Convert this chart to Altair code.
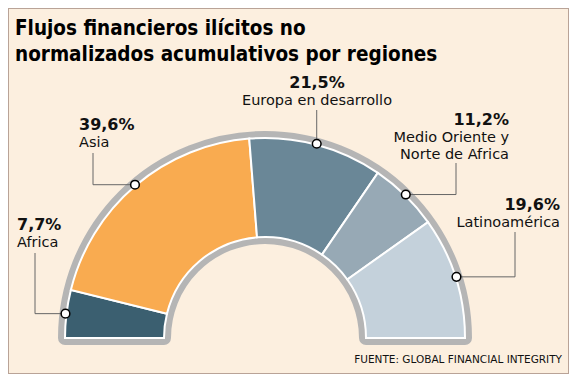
import math
import altair as alt
import pandas as pd

# ---------------- data ----------------
regions = ["Africa", "Asia", "Europa en desarrollo",
           "Medio Oriente y Norte de Africa", "Latinoamérica"]
shares = [7.7, 39.6, 21.5, 11.2, 19.6]
pct_labels = ["7,7%", "39,6%", "21,5%", "11,2%", "19,6%"]
name_lines = [["Africa"], ["Asia"], ["Europa en desarrollo"],
              ["Medio Oriente y", "Norte de Africa"], ["Latinoamérica"]]
title_lines = ["Flujos financieros ilícitos no",
               "normalizados acumulativos por regiones"]
source_text = "FUENTE: GLOBAL FINANCIAL INTEGRITY"

# ---------------- style / layout ----------------
colors = ["#3b5f70", "#f9ab50", "#6a8797", "#97a9b5", "#c4d1db"]
BG = "#fcefdf"
GRAY = "#b5b5b5"
W, H = 561, 366
OFF = 8  # page margin
CX, CY = 265 - OFF, 338 - OFF
R_OUT, R_IN = 200, 101
R_DOT = 201
# per region: text x, pct baseline, align, elbow x (None=straight up), leader top y  (page coords)
label_layout = [
    (17, 230, "left", 35, 253),
    (79, 130, "left", 93, 153),
    (317, 88, "center", None, 110),
    (509, 125, "right", 456, 163),
    (560, 210, "right", 515, 232),
]
LINE_GAP = 17
TITLE_FONT = "'DejaVu Sans Condensed', Roboto, sans-serif"

# ---------------- derived tables ----------------
total = sum(shares)
arc_df = pd.DataFrame({"region": regions, "share": shares,
                       "order": list(range(len(regions))), "color": colors})

dots, rules = [], []
cum = 0.0
for i, s in enumerate(shares):
    a = (cum + s / 2) / total * math.pi
    cum += s
    dx = CX - R_DOT * math.cos(a)
    dy = CY - R_DOT * math.sin(a)
    dots.append({"x": dx, "y": dy})
    tx, py, al, ex, top = label_layout[i]
    if ex is None:
        rules.append({"x": dx, "y": dy, "x2": dx, "y2": top - OFF})
    else:
        rules.append({"x": dx, "y": dy, "x2": ex - OFF, "y2": dy})
        rules.append({"x": ex - OFF, "y": dy, "x2": ex - OFF, "y2": top - OFF})
dots_df = pd.DataFrame(dots)
rules_df = pd.DataFrame(rules)

one = pd.DataFrame({"a": [1]})
px = lambda f: alt.X(f, type="quantitative", scale=None, axis=None)
py_ = lambda f: alt.Y(f, type="quantitative", scale=None, axis=None)

band = alt.Chart(one).mark_arc(
    radius=R_OUT, radius2=R_IN, theta=1.5 * math.pi, theta2=2.5 * math.pi,
    fill=GRAY, stroke=GRAY, strokeWidth=14, strokeJoin="round"
).encode(x=alt.value(CX), y=alt.value(CY))

arcs = alt.Chart(arc_df).mark_arc(
    radius=R_OUT, radius2=R_IN, stroke="white", strokeWidth=2
).encode(
    theta=alt.Theta("share:Q", stack=True,
                    scale=alt.Scale(range=[1.5 * math.pi, 2.5 * math.pi])),
    color=alt.Color("color:N", scale=None),
    order=alt.Order("order:Q"),
    x=alt.value(CX), y=alt.value(CY),
)

leaders = alt.Chart(rules_df).mark_rule(color="#666666", strokeWidth=1).encode(
    x=px("x"), y=py_("y"), x2="x2:Q", y2="y2:Q")

dot_layer = alt.Chart(dots_df).mark_point(
    filled=True, fill="white", stroke="black", strokeWidth=1.5, size=75, opacity=1
).encode(x=px("x"), y=py_("y"))

texts = []
for i in range(len(regions)):
    tx, pyb, al, ex, top = label_layout[i]
    texts.append(alt.Chart(one).mark_text(
        text=pct_labels[i], align=al, baseline="alphabetic",
        font="DejaVu Sans", fontWeight="bold", fontSize=16, color="#111111"
    ).encode(x=alt.value(tx - OFF), y=alt.value(pyb - OFF)))
    for j, ln in enumerate(name_lines[i]):
        texts.append(alt.Chart(one).mark_text(
            text=ln, align=al, baseline="alphabetic",
            font="DejaVu Sans", fontSize=14.5, color="#111111"
        ).encode(x=alt.value(tx - OFF), y=alt.value(pyb - OFF + LINE_GAP * (j + 1))))

for j, ln in enumerate(title_lines):
    texts.append(alt.Chart(one).mark_text(
        text=ln, align="left", baseline="alphabetic",
        font=TITLE_FONT, fontWeight="bold", fontSize=20.5, color="#000000"
    ).encode(x=alt.value(15 - OFF), y=alt.value(35 - OFF + 26 * j)))

texts.append(alt.Chart(one).mark_text(
    text=source_text, align="right", baseline="alphabetic",
    font="DejaVu Sans", fontSize=10.5, color="#111111"
).encode(x=alt.value(562 - OFF), y=alt.value(363 - OFF)))

chart = alt.layer(band, arcs, leaders, dot_layer, *texts).properties(
    width=W, height=H, background=BG, padding=0, autosize="none"
).configure_view(stroke="#b9a397", strokeWidth=2)

chart.save("out.html", embed_options={"renderer": "svg", "actions": False})
